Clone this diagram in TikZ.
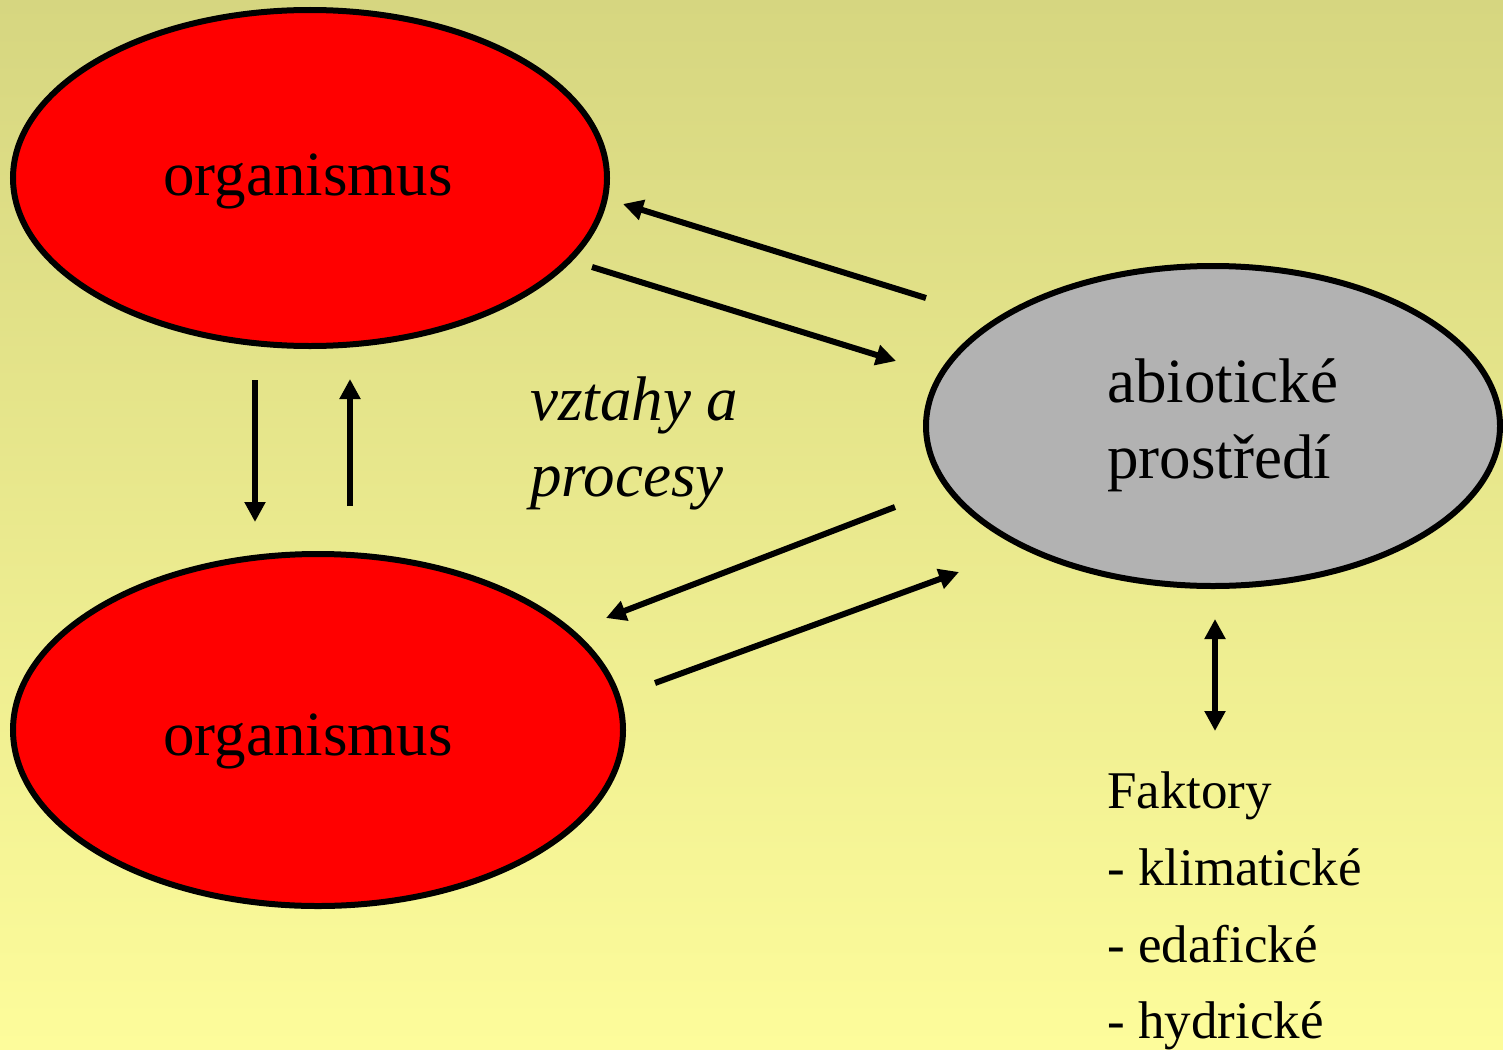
\documentclass[tikz,border=0pt]{standalone}
\usepackage{fontspec}
\setmainfont{Liberation Serif}
\usetikzlibrary{arrows.meta,shapes.geometric}
\definecolor{bgtop}{RGB}{214,214,128}
\definecolor{bgbot}{RGB}{253,252,155}
\definecolor{orgred}{RGB}{255,0,0}
\definecolor{abgray}{RGB}{178,178,178}
\begin{document}
\begin{tikzpicture}[x=1pt,y=-1pt,
  blob/.style={ellipse,draw=black,line width=6pt,inner sep=0pt},
  big/.style={font=\fontsize{63}{76}\selectfont},
  small/.style={font=\fontsize{53}{77}\selectfont},
  link/.style={line width=6pt,-{Triangle[length=20pt,width=20pt]}},
  dlink/.style={line width=6pt,{Triangle[length=20pt,width=20pt]}-{Triangle[length=20pt,width=20pt]}}]
\useasboundingbox (0,0) rectangle (1503,1049);
\shade[top color=bgtop,bottom color=bgbot] (0,0) rectangle (1503,1049);
% ellipses
\node[blob,fill=orgred,minimum width=594pt,minimum height=336pt] (org1) at (310,178) {};
\node[blob,fill=orgred,minimum width=610pt,minimum height=352pt] (org2) at (318,730) {};
\node[blob,fill=abgray,minimum width=574pt,minimum height=320pt] (abio) at (1213,426) {};
% labels
\node[big,anchor=base] (t1) at (308,195) {organismus};
\node[big,anchor=base] (t2) at (308,755) {organismus};
\node[big,anchor=base west,inner sep=0pt] (ab1) at (1107,402) {abiotické};
\node[big,anchor=base west,inner sep=0pt] (ab2) at (1107,478) {prostředí};
\node[big,anchor=base west,inner sep=0pt,font=\fontsize{63}{76}\selectfont\itshape] (v1) at (530,420) {vztahy a};
\node[big,anchor=base west,inner sep=0pt,font=\fontsize{63}{76}\selectfont\itshape] (v2) at (530,496) {procesy};
\node[small,anchor=base west,inner sep=0pt] (f0) at (1107,808) {Faktory};
\node[small,anchor=base west,inner sep=0pt] (f1) at (1107,885) {- klimatické};
\node[small,anchor=base west,inner sep=0pt] (f2) at (1107,962) {- edafické};
\node[small,anchor=base west,inner sep=0pt] (f3) at (1107,1038) {- hydrické};
% arrow end points
\coordinate (a1s) at (926,298); \coordinate (a1e) at (623,204);
\coordinate (a2s) at (592,267); \coordinate (a2e) at (896,361);
\coordinate (a3s) at (255,380); \coordinate (a3e) at (255,522);
\coordinate (a4s) at (350,506); \coordinate (a4e) at (350,379);
\coordinate (a5s) at (895,507); \coordinate (a5e) at (606,618);
\coordinate (a6s) at (655,683); \coordinate (a6e) at (959,572);
\coordinate (a7s) at (1215,619); \coordinate (a7e) at (1215,731);
\draw[link] (a1s) -- (a1e);
\draw[link] (a2s) -- (a2e);
\draw[link] (a3s) -- (a3e);
\draw[link] (a4s) -- (a4e);
\draw[link] (a5s) -- (a5e);
\draw[link] (a6s) -- (a6e);
\draw[dlink] (a7s) -- (a7e);
\end{tikzpicture}
\end{document}
